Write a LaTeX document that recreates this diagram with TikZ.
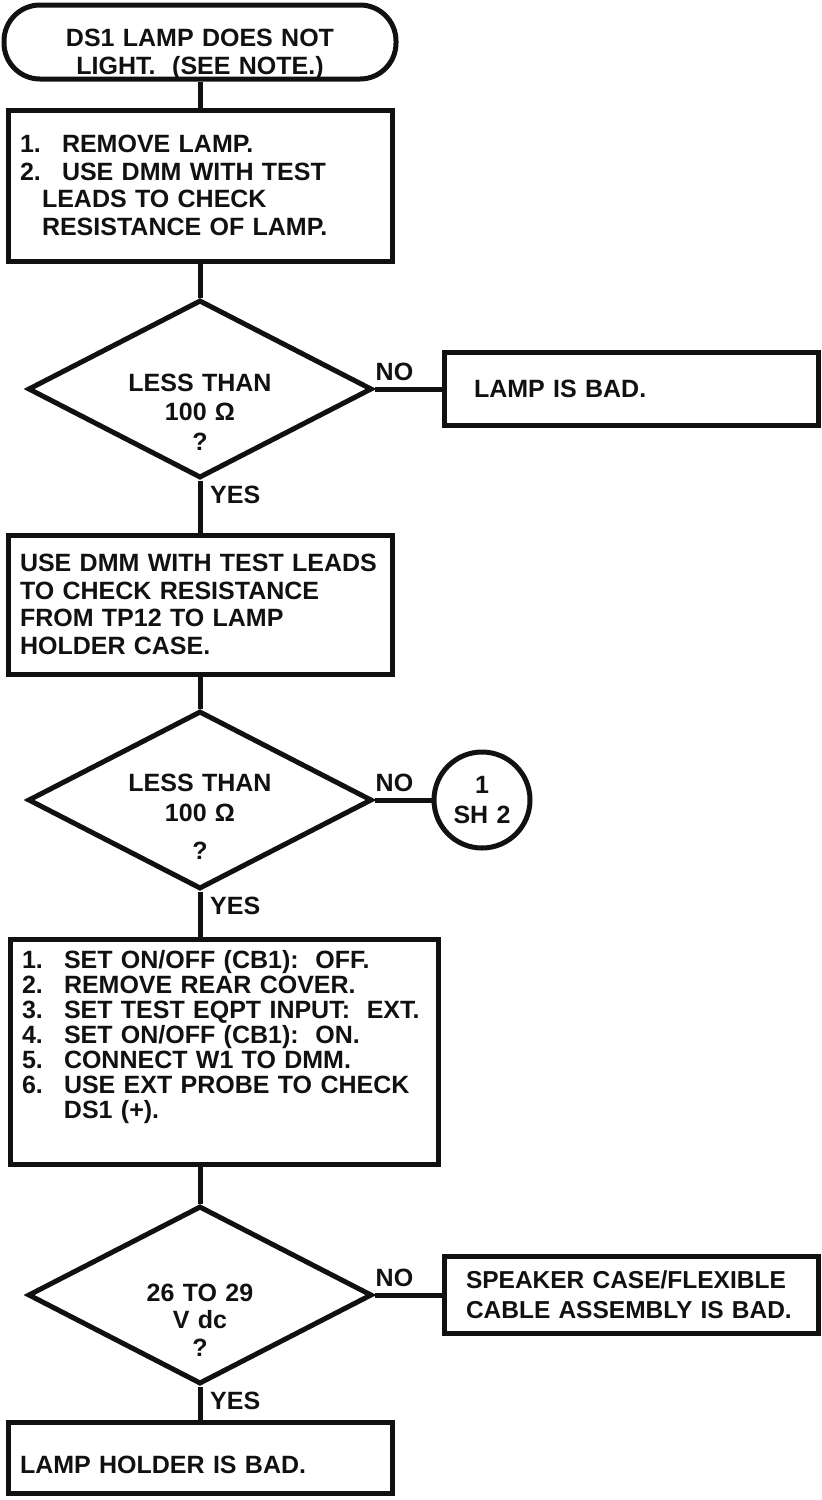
\documentclass[tikz,border=0pt]{standalone}
\usepackage{fontspec}
\setmainfont{Liberation Sans}
\usetikzlibrary{positioning, shapes.geometric}
\definecolor{ink}{HTML}{111111}
\newcommand{\chartfont}{\fontsize{25}{27.5}\selectfont\bfseries}
\newcommand{\stepno}[1]{\makebox[42pt][l]{#1}}

\begin{document}
\begin{tikzpicture}[
    x=1pt, y=-1pt,
    font=\chartfont, text=ink,
    wire/.style={draw=ink, line width=5pt},
    oval/.style={draw=ink, line width=5pt, rounded corners=36pt,
                 minimum width=392pt, minimum height=74pt, text width=360pt,
                 align=center, inner ysep=-6pt},
    stepbox/.style={draw=ink, line width=5pt, minimum width=384pt,
                    text width=360pt, inner xsep=12pt, inner ysep=6pt, align=left},
    test/.style={draw=ink, line width=5pt, diamond, aspect=1.93,
                 minimum width=344pt, minimum height=178pt, text width=170pt,
                 inner sep=-40pt, align=center},
    result/.style={draw=ink, line width=5pt, minimum width=374pt,
                   text width=330pt, inner xsep=22pt, align=left},
    offpage/.style={draw=ink, line width=5pt, circle, minimum size=96pt,
                    text width=64pt, inner sep=0pt, align=center},
    lbl/.style={inner sep=1pt}]
  \useasboundingbox (0,0) rectangle (822,1500);

  \node[oval, text height=42pt] (start) at (200,42) {DS1 LAMP DOES NOT\\LIGHT.\ \ (SEE NOTE.)};
  \node[stepbox, below=26pt of start, minimum height=151pt] (remove)
    {\stepno{1.}REMOVE LAMP.\\ \stepno{2.}USE DMM WITH TEST\\ \hspace*{22pt}LEADS TO CHECK\\ \hspace*{22pt}RESISTANCE OF LAMP.};
  \node[test, below=34pt of remove, text height=63pt] (ohms1) {LESS THAN\\[2pt]100 Ω\\[2pt]?};
  \node[result, right=67pt of ohms1, minimum height=73pt, inner xsep=30pt,
        text width=314pt] (lampbad) {LAMP IS BAD.};
  \node[stepbox, below=52pt of ohms1, minimum height=139pt] (holder)
    {USE DMM WITH TEST LEADS\\TO CHECK RESISTANCE\\FROM TP12 TO LAMP\\HOLDER CASE.};
  \node[test, below=32pt of holder, text height=50pt] (ohms2) {LESS THAN\\[2.5pt]100 Ω\\[10.5pt]?};
  \node[offpage, right=57pt of ohms2] (sheet2) {1\\[2.5pt]SH 2};
  \node[stepbox, below=45pt of ohms2, xshift=24pt, minimum width=428pt,
        text width=404pt, minimum height=225pt, text depth=185pt,
        font={\fontsize{25}{25}\selectfont\bfseries}] (power)
    {\stepno{1.}SET ON/OFF (CB1):\ \ OFF.\\ \stepno{2.}REMOVE REAR COVER.\\
     \mbox{\stepno{3.}SET TEST EQPT INPUT:\ \ EXT.}\\ \stepno{4.}SET ON/OFF (CB1):\ \ ON.\\
     \stepno{5.}CONNECT W1 TO DMM.\\ \stepno{6.}USE EXT PROBE TO CHECK\\
     \hspace*{42pt}DS1 (+).};
  \node[test, below=37pt of power, xshift=-24pt, text height=67pt] (vdc) {26 TO 29\\V dc\\?};
  \node[result, right=67pt of vdc, minimum height=77pt,
        font={\fontsize{24.5}{30}\selectfont\bfseries}] (cable)
    {SPEAKER CASE/FLEXIBLE\\CABLE ASSEMBLY IS BAD.};
  \node[stepbox, below=33pt of vdc, minimum height=71pt, text height=31pt,
        text depth=0pt] (holderbad) {LAMP HOLDER IS BAD.};

  % branch labels
  \node[lbl, above right=7pt and 0pt of ohms1.east] (no1) {NO};
  \node[lbl, below right=4pt and 9pt of ohms1.south] (yes1) {YES};
  \node[lbl, above right=7pt and 0pt of ohms2.east] (no2) {NO};
  \node[lbl, below right=4pt and 9pt of ohms2.south] (yes2) {YES};
  \node[lbl, above right=7pt and 0pt of vdc.east] (no3) {NO};
  \node[lbl, below right=4pt and 9pt of vdc.south] (yes3) {YES};

  \draw[wire] (start) -- (remove);
  \draw[wire] (remove) -- (ohms1);
  \draw[wire] (ohms1) -- (lampbad);
  \draw[wire] (ohms1) -- (holder);
  \draw[wire] (holder) -- (ohms2);
  \draw[wire] (ohms2) -- (sheet2);
  \draw[wire] (ohms2.south) -- (ohms2.south |- power.north);
  \draw[wire] (vdc.north |- power.south) -- (vdc.north);
  \draw[wire] (vdc) -- (cable);
  \draw[wire] (vdc) -- (holderbad);
\end{tikzpicture}
\end{document}
